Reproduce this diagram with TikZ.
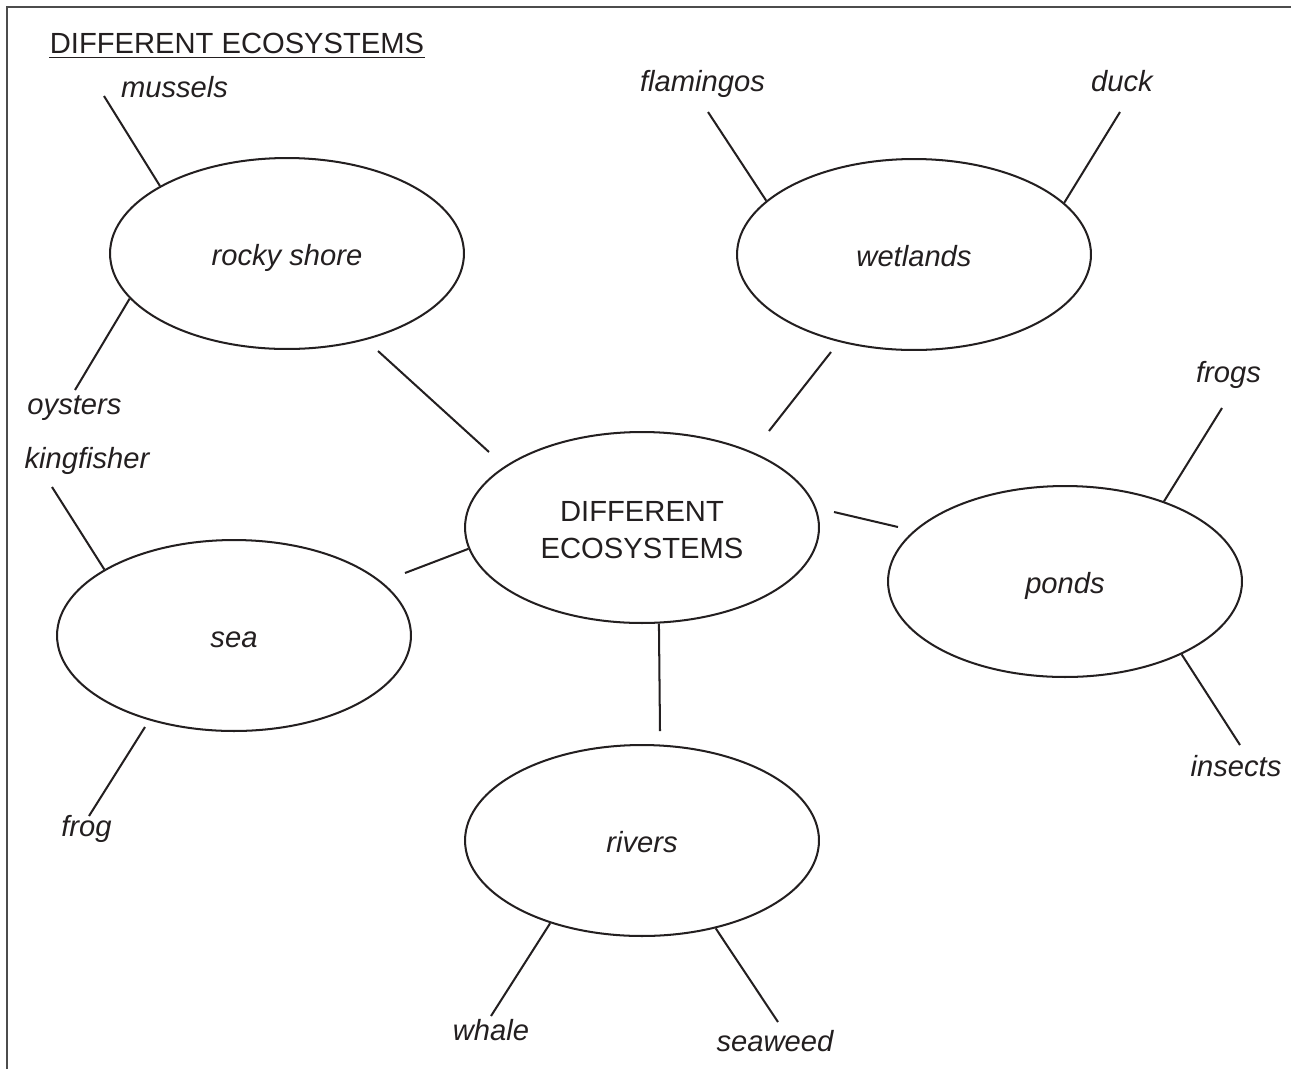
\documentclass[tikz,border=0pt]{standalone}
\usepackage{fontspec}
\setmainfont{Liberation Sans}
\usetikzlibrary{shapes.geometric}
\definecolor{ink}{HTML}{231F20}
\begin{document}
\begin{tikzpicture}[x=0.02cm,y=-0.02cm,
  txt/.style={font=\fontsize{16.6}{21}\selectfont, text=ink},
  eco/.style={ellipse, draw=ink, line width=1.15pt, minimum width=7.08cm,
    minimum height=3.82cm, inner sep=0pt, txt, font=\fontsize{16.6}{21}\selectfont\itshape,
    text height=17.4pt, text depth=3.8pt},
  hub/.style={eco, font=\fontsize{16.6}{21}\selectfont\upshape, align=center,
    text height=35pt, text depth=0pt},
  lbl/.style={anchor=base, inner sep=0pt, txt, font=\fontsize{16.6}{21}\selectfont\itshape},
  spoke/.style={draw=ink, line width=1.15pt}]
\useasboundingbox (0,0) rectangle (1291,1069);

% frame
\draw[black!70, line width=1pt] (7,1069) -- (7,7) -- (1291,7);

% title
\node[anchor=base, inner sep=0pt, txt] (title) at (237,53) {DIFFERENT ECOSYSTEMS};
\draw[ink, line width=0.8pt] ([yshift=-0.09cm]title.base west) -- ([yshift=-0.09cm]title.base east);

% ecosystems
\node[eco] (rocky)  at (287,253.5) {rocky shore};
\node[eco] (wet)    at (914,254.5) {wetlands};
\node[hub] (hub)    at (642,527.5) {DIFFERENT\\ECOSYSTEMS};
\node[eco] (ponds)  at (1065,581.5) {ponds};
\node[eco] (sea)    at (234,635.5) {sea};
\node[eco] (rivers) at (642,840.5) {rivers};

% living things
\node[lbl] (mussels)    at (174.5,97)  {mussels};
\node[lbl] (oysters)    at (74.5,414)  {oysters};
\node[lbl] (flamingos)  at (702.5,91)  {flamingos};
\node[lbl] (duck)       at (1122,91)   {duck};
\node[lbl] (frogs)      at (1228.5,382) {frogs};
\node[lbl] (insects)    at (1236,776)  {insects};
\node[lbl] (kingfisher) at (87,468)    {kingfisher};
\node[lbl] (frog)       at (86.5,836)  {frog};
\node[lbl] (whale)      at (491,1040)  {whale};
\node[lbl] (seaweed)    at (775,1051)  {seaweed};

% free ends of the spokes
\coordinate (mussels-tip)  at (104,96);
\coordinate (oysters-tip)  at (75,390);
\coordinate (flam-tip)     at (708,112);
\coordinate (duck-tip)     at (1120,112);
\coordinate (frogs-tip)    at (1222,408);
\coordinate (insects-tip)  at (1240,745);
\coordinate (king-tip)     at (52,487);
\coordinate (frog-tip)     at (89,816);
\coordinate (whale-tip)    at (491,1016);
\coordinate (seaweed-tip)  at (778,1022);
\coordinate (rocky-out)    at (378,351);
\coordinate (hub-in-rocky) at (489,452);
\coordinate (wet-out)      at (831,352);
\coordinate (hub-in-wet)   at (769,431);
\coordinate (hub-out-pond) at (834,512);
\coordinate (pond-in)      at (898,527);
\coordinate (sea-out)      at (405,573);
\coordinate (sea-low)      at (145,727);
\coordinate (river-in)     at (660,731);

% spokes
\draw[spoke] (mussels-tip) -- (rocky.152);
\draw[spoke] (rocky.196.5) -- (oysters-tip);
\draw[spoke] (rocky-out) -- (hub-in-rocky);
\draw[spoke] (flam-tip) -- (wet.160.6);
\draw[spoke] (duck-tip) -- (wet.19.4);
\draw[spoke] (wet-out) -- (hub-in-wet);
\draw[spoke] (frogs-tip) -- (ponds.39);
\draw[spoke] (ponds.328.5) -- (insects-tip);
\draw[spoke] (hub-out-pond) -- (pond-in);
\draw[spoke] (sea-out) -- (hub.187);
\draw[spoke] (king-tip) -- (sea.153.4);
\draw[spoke] (sea-low) -- (frog-tip);
\draw[spoke] (hub.280.7) -- (river-in);
\draw[spoke] (rivers.222.6) -- (whale-tip);
\draw[spoke] (rivers.310.5) -- (seaweed-tip);
\end{tikzpicture}
\end{document}
